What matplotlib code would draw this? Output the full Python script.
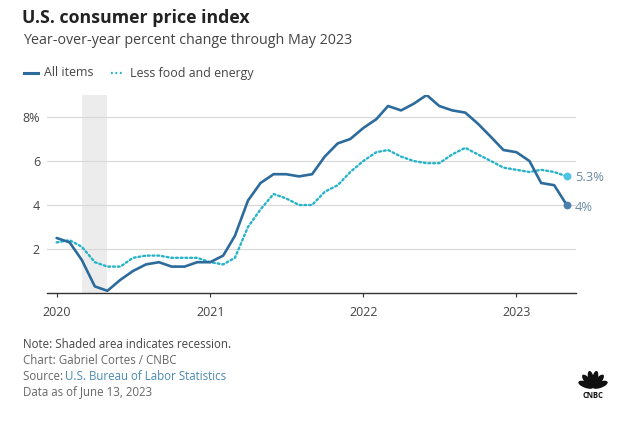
import numpy as np
import pandas as pd
import matplotlib.pyplot as plt
from matplotlib.patches import Ellipse

plt.rcParams['font.family'] = ['Open Sans', 'DejaVu Sans']

# monthly data, Jan 2020 - May 2023
months = pd.date_range('2020-01-01', '2023-05-01', freq='MS')
all_items = [2.5, 2.3, 1.5, 0.3, 0.1, 0.6, 1.0, 1.3, 1.4, 1.2, 1.2, 1.4,
             1.4, 1.7, 2.6, 4.2, 5.0, 5.4, 5.4, 5.3, 5.4, 6.2, 6.8, 7.0,
             7.5, 7.9, 8.5, 8.3, 8.6, 9.0, 8.5, 8.3, 8.2, 7.7, 7.1, 6.5,
             6.4, 6.0, 5.0, 4.9, 4.0]
core = [2.3, 2.4, 2.1, 1.4, 1.2, 1.2, 1.6, 1.7, 1.7, 1.6, 1.6, 1.6,
        1.4, 1.3, 1.6, 3.0, 3.8, 4.5, 4.3, 4.0, 4.0, 4.6, 4.9, 5.5,
        6.0, 6.4, 6.5, 6.2, 6.0, 5.9, 5.9, 6.3, 6.6, 6.3, 6.0, 5.7,
        5.6, 5.5, 5.6, 5.5, 5.3]
recession = ['2020-03-01', '2020-04-30']
yticks = [2, 4, 6, 8]
ylabels = ['2', '4', '6', '8%']
xyears = ['2020', '2021', '2022', '2023']

c_all = '#2c6b9b'
c_core = '#27b3c8'
c_txt = '#444444'

fig = plt.figure(figsize=(6.3, 4.24), dpi=100)
ax = fig.add_axes([47/630, 1-293/424, 529/630, 198/424])

ax.axvspan(pd.Timestamp(recession[0]), pd.Timestamp(recession[1]),
           color='#ececec', lw=0, zorder=0)
ax.plot(months, all_items, color=c_all, lw=1.9, solid_capstyle='round',
        solid_joinstyle='round', zorder=3)
ax.plot(months, core, color=c_core, lw=1.7, linestyle=(0, (0.8, 1.2)),
        dash_capstyle='round', zorder=2)

ax.scatter([months[-1]], [core[-1]], s=32, color='#4cc6e2', zorder=4, lw=0)
ax.scatter([months[-1]], [all_items[-1]], s=32, color='#4a7fae', zorder=4, lw=0)
ax.annotate(f'{core[-1]}%', (months[-1], core[-1]), xytext=(6, -1),
            textcoords='offset points', va='center', fontsize=9.3, color='#6a8aa2')
ax.annotate(f'{all_items[-1]:g}%', (months[-1], all_items[-1]), xytext=(6, -2),
            textcoords='offset points', va='center', fontsize=9.3, color='#6a8aa2')

ax.set_ylim(0, 9.0)
ax.set_xlim(pd.Timestamp('2019-12-09'), pd.Timestamp('2023-05-23'))
ax.set_yticks(yticks)
ax.set_yticklabels(ylabels)
ax.set_xticks([pd.Timestamp(y + '-01-01') for y in xyears])
ax.set_xticklabels(xyears)
ax.grid(axis='y', color='#d8d8d8', lw=0.8)
ax.set_axisbelow(True)
for s in ['left', 'right', 'top']:
    ax.spines[s].set_visible(False)
ax.spines['bottom'].set_color('#333333')
ax.spines['bottom'].set_linewidth(1)
ax.tick_params(axis='y', length=0, pad=5, labelsize=9, labelcolor=c_txt)
ax.tick_params(axis='x', length=3, width=0.8, color='#333333', pad=6,
               labelsize=9, labelcolor=c_txt)

# titles and legend
fig.text(22/630, 1-18/424, 'U.S. consumer price index', fontsize=12.8,
         fontweight='bold', color='#222222', va='center')
fig.text(23/630, 1-41/424, 'Year-over-year percent change through May 2023',
         fontsize=10.3, color='#444444', va='center')
fig.add_artist(plt.Line2D([24/630, 38/630], [1-73/424, 1-73/424], color=c_all, lw=2.2))
fig.text(44/630, 1-73/424, 'All items', fontsize=8.9, color=c_txt, va='center')
fig.add_artist(plt.Line2D([111/630, 122/630], [1-73/424, 1-73/424], color=c_core,
                          lw=1.6, linestyle=(0, (0.8, 1.2))))
fig.text(130/630, 1-73/424, 'Less food and energy', fontsize=8.9, color=c_txt, va='center')

# footer
fig.text(23/630, 1-344/424, 'Note: Shaded area indicates recession.',
         fontsize=8.3, color='#444444', va='center')
fig.text(23/630, 1-361/424, 'Chart: Gabriel Cortes / CNBC',
         fontsize=8.3, color='#666666', va='center')
src = fig.text(23/630, 1-377/424, 'Source: ', fontsize=8.3, color='#666666', va='center')
fig.canvas.draw()
bb = src.get_window_extent()
fig.text(bb.x1/630 - 1/630, 1-377/424, 'U.S. Bureau of Labor Statistics',
         fontsize=8.3, color='#4a8ab3', va='center')
fig.text(23/630, 1-392/424, 'Data as of June 13, 2023',
         fontsize=8.3, color='#666666', va='center')

# CNBC peacock
lg = fig.add_axes([578/630, 1-398/424, 30/630, 28/424])
lg.set_xlim(-1, 1)
lg.set_ylim(-0.6, 1.1)
lg.axis('off')
for ang in [-72, -43, -14, 14, 43, 72]:
    r = np.deg2rad(90 - ang)
    lg.add_patch(Ellipse((0.5*np.cos(r), 0.05 + 0.5*np.sin(r)), 0.3, 0.95,
                         angle=-ang, color='#111111'))
lg.text(0, -0.42, 'CNBC', ha='center', va='center', fontsize=5.5,
        fontweight='bold', color='#111111')

fig.savefig('out.png', dpi=100)
